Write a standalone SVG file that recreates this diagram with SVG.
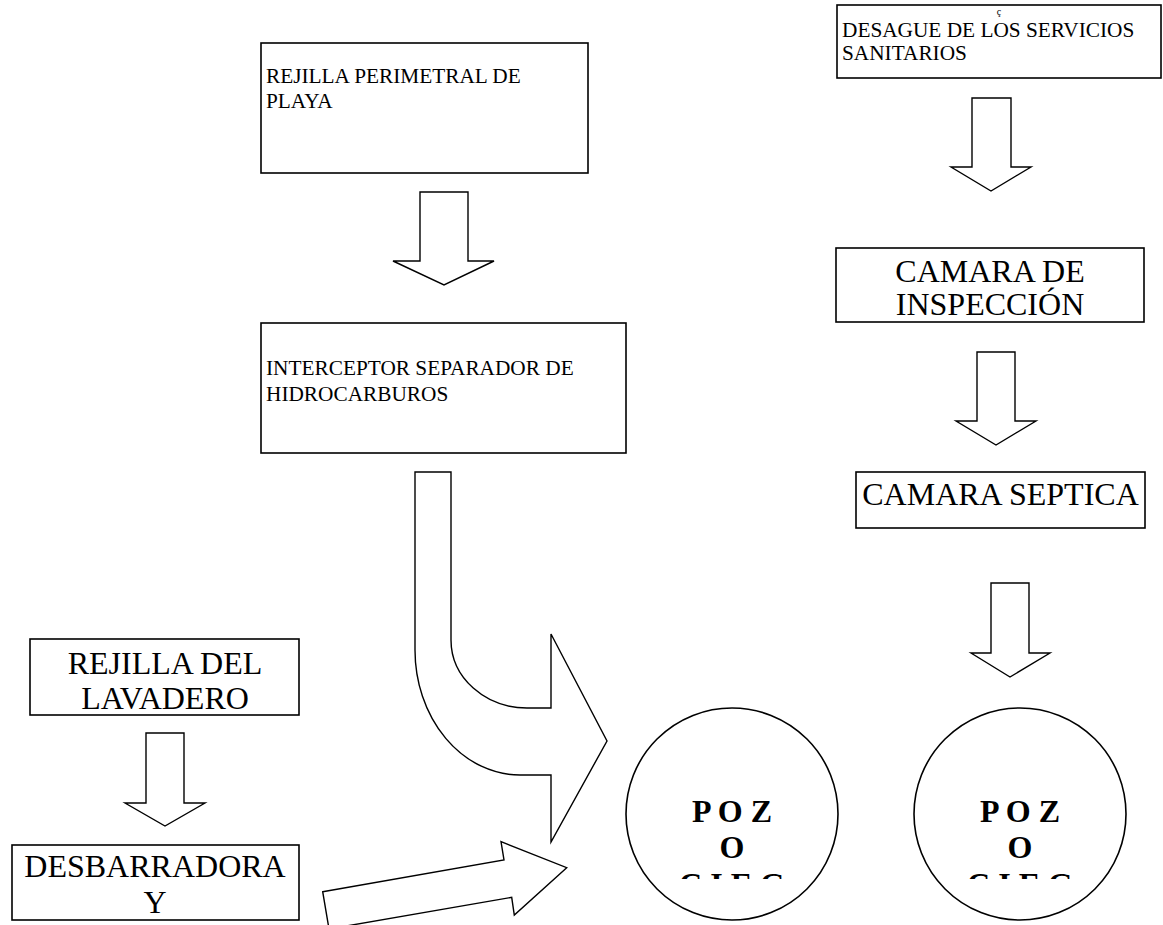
<svg xmlns="http://www.w3.org/2000/svg" width="1163" height="925" viewBox="0 0 1163 925">
<style>
.box{fill:#fff;stroke:#000;stroke-width:1.6}
.arr{fill:#fff;stroke:#000;stroke-width:1.4;stroke-linejoin:miter}
.circ{fill:#fff;stroke:#000;stroke-width:1.6}
.sm{font-family:"Liberation Serif","Times New Roman",serif;font-size:21.3px;fill:#000}
.lg{font-family:"Liberation Serif","Times New Roman",serif;font-size:32px;fill:#000;text-anchor:middle}
.pz{font-family:"Liberation Serif","Times New Roman",serif;font-size:32px;font-weight:bold;fill:#000;text-anchor:middle}
</style>
<defs>
<clipPath id="clip1"><rect x="640" y="770" width="185" height="109"/></clipPath>
<clipPath id="clip2"><rect x="928" y="770" width="185" height="109"/></clipPath>
</defs>
<rect width="1163" height="925" fill="#fff"/>
<g id="connectors">
<polygon class="arr" points="420,192 468,192 468,261 494,261 444,285 393,261 420,261"/>
<polygon class="arr" points="972,98 1011,98 1011,167 1031,167 991,191 951,167 972,167"/>
<polygon class="arr" points="977,352 1015,352 1015,421 1036,421 996,445 956,421 977,421"/>
<polygon class="arr" points="991,583 1029,583 1029,653 1050,653 1010,677 971,653 991,653"/>
<polygon class="arr" points="146,733 184,733 184,803 205,803 165,826 125,803 146,803"/>
<path class="arr" d="M415,472 L451,472 L451,640 A76 68 0 0 0 527,708 L551,708 L551,634 L607,741 L551,842 L551,775 L520,775 A105 125 0 0 1 415,650 Z"/>
<polygon class="arr" points="322.7,891.7 504,860 501,841.7 566.7,867.7 514.3,915 511.7,897.3 329,929"/>
</g>
<g id="node-rejilla-perimetral">
<rect class="box" x="261" y="43" width="327" height="130"/>
<text class="sm" x="266" y="83">REJILLA PERIMETRAL DE</text>
<text class="sm" x="266" y="108">PLAYA</text>
</g>
<g id="node-interceptor">
<rect class="box" x="261" y="323" width="365" height="130"/>
<text class="sm" x="266" y="375">INTERCEPTOR SEPARADOR DE</text>
<text class="sm" x="266" y="401">HIDROCARBUROS</text>
</g>
<g id="node-desague">
<rect class="box" x="837" y="5" width="324" height="73"/>
<text x="999" y="15" style="font-family:'Liberation Serif',serif;font-size:10px;text-anchor:middle">ç</text>
<text class="sm" x="842" y="37">DESAGUE DE LOS SERVICIOS</text>
<text class="sm" x="842" y="60">SANITARIOS</text>
</g>
<g id="node-camara-inspeccion">
<rect class="box" x="836" y="248" width="308" height="74"/>
<text class="lg" x="990" y="282">CAMARA DE</text>
<text class="lg" x="990" y="315">INSPECCIÓN</text>
</g>
<g id="node-camara-septica">
<rect class="box" x="856" y="472" width="289" height="56"/>
<text class="lg" x="1000.5" y="505">CAMARA SEPTICA</text>
</g>
<g id="node-rejilla-lavadero">
<rect class="box" x="30" y="639" width="269" height="76"/>
<text class="lg" x="165" y="674">REJILLA DEL</text>
<text class="lg" x="165" y="709">LAVADERO</text>
</g>
<g id="node-desbarradora">
<rect class="box" x="12" y="845" width="287" height="75"/>
<text class="lg" x="155" y="877">DESBARRADORA</text>
<text class="lg" x="155" y="913">Y</text>
</g>
<g id="node-pozo-1">
<circle class="circ" cx="732" cy="814" r="106"/>
<g clip-path="url(#clip1)">
<text class="pz" x="732" y="822">P O Z</text>
<text class="pz" x="732" y="858">O</text>
<text class="pz" x="732" y="895">C I E G</text>
</g>
</g>
<g id="node-pozo-2">
<circle class="circ" cx="1020" cy="814" r="106"/>
<g clip-path="url(#clip2)">
<text class="pz" x="1020" y="822">P O Z</text>
<text class="pz" x="1020" y="858">O</text>
<text class="pz" x="1020" y="895">C I E G</text>
</g>
</g>
</svg>
